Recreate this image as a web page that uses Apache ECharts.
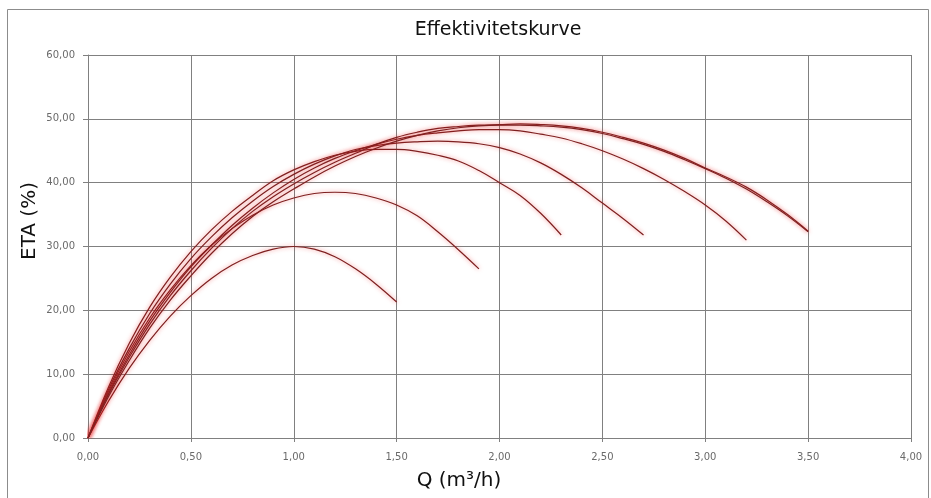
<!DOCTYPE html>
<html>
<head>
<meta charset="utf-8">
<script src="https://cdn.jsdelivr.net/npm/echarts@6/dist/echarts.min.js"></script>
<style>
  html, body { margin: 0; padding: 0; background: #fff; }
  #chart { width: 931px; height: 498px; }
</style>
</head>
<body>
<div id="chart"></div>
<script>
// Flow rate steps (m³/h) shared by all efficiency curves
const qSteps = [0, 0.1, 0.2, 0.3, 0.4, 0.5, 0.6, 0.7, 0.8, 0.9, 1.0, 1.1, 1.2, 1.3, 1.4, 1.5, 1.6, 1.7, 1.8,
  1.9, 2.0, 2.1, 2.2, 2.3, 2.4, 2.5, 2.6, 2.7, 2.8, 2.9, 3.0, 3.1, 3.2, 3.3, 3.4, 3.5];

// Efficiency (%) per curve, one value per flow step up to the curve's end
const etaA = [0, 5.8, 10.9, 15.3, 19.1, 22.3, 25.0, 27.1, 28.6, 29.6, 30.0, 29.6, 28.4, 26.5, 24.1, 21.3];
const etaB = [0, 7.3, 13.5, 18.8, 23.2, 27.0, 30.2, 32.8, 34.9, 36.5, 37.6, 38.3, 38.5, 38.3, 37.6, 36.5,
  34.8, 32.3, 29.5, 26.5];
const etaC = [0, 8.0, 14.8, 20.5, 25.2, 29.2, 32.6, 35.5, 38.0, 40.3, 42.0, 43.3, 44.3, 44.9, 45.2, 45.2,
  44.9, 44.3, 43.4, 41.9, 40.0, 38.0, 35.2, 31.8];
const etaD = [0, 7.6, 14.0, 19.5, 24.1, 28.1, 31.5, 34.5, 37.1, 39.4, 41.3, 42.9, 44.2, 45.2, 45.8, 46.2,
  46.4, 46.5, 46.4, 46.1, 45.5, 44.5, 43.1, 41.3, 39.2, 36.8, 34.4, 31.8];
const etaE = [0, 7.0, 13.0, 18.3, 22.8, 26.8, 30.2, 33.3, 36.0, 38.4, 40.5, 42.3, 43.8, 45.0, 46.0, 46.8,
  47.4, 47.8, 48.1, 48.3, 48.3, 48.1, 47.6, 47.0, 46.1, 45.0, 43.7, 42.2, 40.5, 38.6, 36.5, 34.0, 31.0];
const etaF = [0, 6.8, 12.6, 17.8, 22.3, 26.2, 29.7, 32.8, 35.5, 37.8, 39.8, 41.6, 43.2, 44.6, 46.0, 47.1,
  47.9, 48.5, 48.8, 49.0, 49.1, 49.2, 49.1, 48.9, 48.5, 47.9, 47.1, 46.2, 45.1, 43.8, 42.3, 40.9, 39.3,
  37.3, 35.0, 32.4];
const etaG = [0, 6.5, 12.1, 17.2, 21.6, 25.4, 28.9, 32.0, 34.7, 37.0, 39.0, 40.9, 42.6, 44.1, 45.4, 46.5,
  47.4, 48.1, 48.6, 48.9, 49.0, 49.0, 48.9, 48.7, 48.3, 47.7, 46.9, 46.0, 44.9, 43.6, 42.2, 40.7, 39.0,
  37.0, 34.8, 32.3];

const curves = [etaA, etaB, etaC, etaD, etaE, etaF, etaG];

// Axis ranges and tick spacing
const xRange = [0, 4];
const xStep = 0.5;
const yRange = [0, 60];
const yStep = 10;

const titleText = 'Effektivitetskurve';
const xName = 'Q (m³/h)';
const yName = 'ETA (%)';

const fmt = v => v.toFixed(2).replace('.', ',');

const chart = echarts.init(document.getElementById('chart'), null, { renderer: 'canvas' });

// Thin dark-red curves with a soft red halo
const series = curves.map(eta => ({
  type: 'line',
  data: eta.map((v, i) => [qSteps[i], v]),
  smooth: 0.4,
  showSymbol: false,
  silent: true,
  lineStyle: {
    color: '#7e2020',
    width: 1.2,
    shadowColor: 'rgba(235, 35, 35, 0.6)',
    shadowBlur: 4
  }
}));

const axisGrey = '#808080';
const labelStyle = { color: '#6a6a6a', fontSize: 10, fontFamily: 'DejaVu Sans' };

chart.setOption({
  animation: false,
  backgroundColor: '#ffffff',
  grid: { left: 88, right: 20, top: 55, bottom: 60, containLabel: false },
  xAxis: {
    type: 'value',
    min: xRange[0], max: xRange[1], interval: xStep,
    axisLine: { show: true, lineStyle: { color: axisGrey, width: 1 } },
    axisTick: { show: true, inside: false, length: 4, lineStyle: { color: axisGrey } },
    splitLine: { show: true, lineStyle: { color: axisGrey, width: 1 } },
    axisLabel: Object.assign({ margin: 14, formatter: fmt }, labelStyle)
  },
  yAxis: {
    type: 'value',
    min: yRange[0], max: yRange[1], interval: yStep,
    axisLine: { show: true, lineStyle: { color: axisGrey, width: 1 } },
    axisTick: { show: true, inside: false, length: 5, lineStyle: { color: axisGrey } },
    splitLine: { show: true, lineStyle: { color: axisGrey, width: 1 } },
    axisLabel: Object.assign({ margin: 13, formatter: fmt }, labelStyle)
  },
  graphic: [
    {
      type: 'rect', silent: true, z: -1,
      shape: { x: 7.5, y: 9.5, width: 921, height: 490 },
      style: { fill: null, stroke: '#8c8c8c', lineWidth: 1 }
    },
    {
      type: 'text', silent: true,
      x: 498, y: 30,
      style: { text: titleText, fill: '#111', font: '19px "DejaVu Sans"', align: 'center', verticalAlign: 'middle' }
    },
    {
      type: 'text', silent: true,
      x: 30, y: 221, rotation: Math.PI / 2,
      style: { text: yName, fill: '#111', font: '20px "DejaVu Sans"', align: 'center', verticalAlign: 'middle' }
    },
    {
      type: 'text', silent: true,
      x: 459, y: 481,
      style: { text: xName, fill: '#111', font: '20px "DejaVu Sans"', align: 'center', verticalAlign: 'middle' }
    }
  ],
  series: series
});
</script>
</body>
</html>
